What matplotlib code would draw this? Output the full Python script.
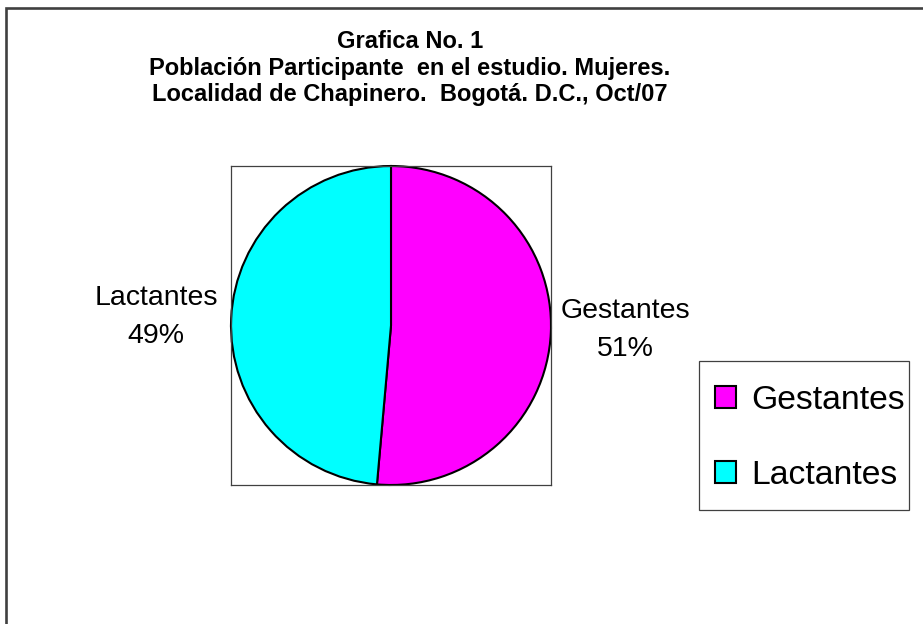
import matplotlib.pyplot as plt
from matplotlib.patches import Rectangle

plt.rcParams['font.family'] = ['Liberation Sans', 'DejaVu Sans']

# data
categorias = ['Gestantes', 'Lactantes']
porcentajes = [51.4, 48.6]
colores = ['#ff00ff', '#00ffff']
titulo = ('Grafica No. 1\n'
          'Población Participante  en el estudio. Mujeres.\n'
          'Localidad de Chapinero.  Bogotá. D.C., Oct/07')

W, H = 923, 624
fig = plt.figure(figsize=(W / 100, H / 100), dpi=100)


def fx(px):
    return px / W


def fy(py):
    return 1 - py / H


# outer frame of the chart area (cut off at right and bottom)
fig.patches.append(Rectangle((fx(6), -0.2), 1.5, fy(8) + 0.2,
                             transform=fig.transFigure, fill=False,
                             edgecolor='#404040', linewidth=1.9))

fig.text(fx(410), fy(68), titulo, ha='center', va='center',
         fontsize=17, fontweight='bold', linespacing=1.17)

# plot area with the pie
ax = fig.add_axes([fx(231), fy(485), fx(320), (485 - 166) / H])
wedges, _ = ax.pie(porcentajes, colors=colores, startangle=90,
                   counterclock=False, radius=1,
                   wedgeprops=dict(edgecolor='black', linewidth=1.5))
ax.set_aspect('auto')
ax.set_xlim(-1.0, 1.0)
ax.set_ylim(-1.0, 1.0)
ax.set_frame_on(True)
for s in ax.spines.values():
    s.set_color('#404040')
    s.set_linewidth(0.9)
ax.set_xticks([])
ax.set_yticks([])

# data labels
label_pos = {'Gestantes': (625, 330), 'Lactantes': (156, 317)}
for nombre, p in zip(categorias, porcentajes):
    x, y = label_pos[nombre]
    fig.text(fx(x), fy(y), f'{nombre}\n{p:.0f}%', ha='center', va='center',
             fontsize=20.5, linespacing=1.6)

# legend box
fig.patches.append(Rectangle((fx(699), fy(510)), fx(909 - 699), (510 - 361) / H,
                             transform=fig.transFigure, fill=False,
                             edgecolor='#404040', linewidth=0.9))
fig.legend(wedges, categorias, loc='upper left',
           bbox_to_anchor=(fx(715), fy(385)), frameon=False,
           fontsize=24.3, handlelength=0.62, handleheight=0.62,
           handletextpad=0.45, labelspacing=1.31, borderpad=0,
           borderaxespad=0)

fig.savefig('out.png', dpi=100)
